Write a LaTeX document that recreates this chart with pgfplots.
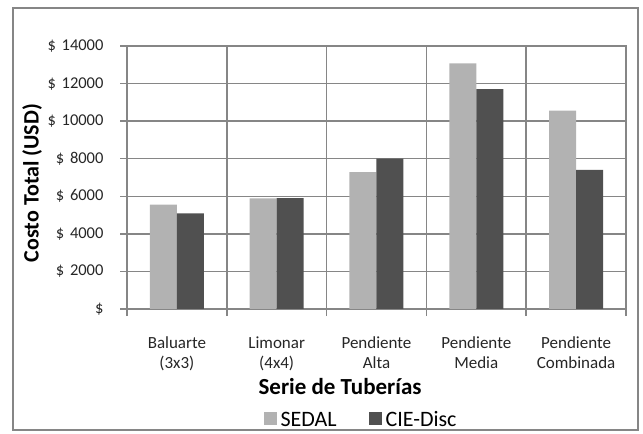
\documentclass[border=0pt]{standalone}
\usepackage{pgfplots}
\pgfplotsset{compat=1.18}
\usepackage{fontspec}
\setmainfont{Carlito}
\definecolor{sedal}{HTML}{B2B2B2}
\definecolor{cie}{HTML}{505050}
\definecolor{gridc}{HTML}{868686}
\begin{document}
\begin{tikzpicture}[x=1pt,y=1pt]
\useasboundingbox (0,0) rectangle (643,434);
\draw[gridc, line width=2pt] (13,4) rectangle (638,426);
\begin{axis}[
  at={(127pt,125pt)}, anchor=south west,
  scale only axis, width=499pt, height=263pt,
  ybar=0pt, bar width=27pt,
  xmin=-0.5, xmax=4.5, ymin=0, ymax=14000,
  scaled y ticks=false,
  xtick={0,1,2,3,4},
  xticklabels={{Baluarte\\(3x3)},{Limonar\\(4x4)},{Pendiente\\Alta},{Pendiente\\Media},{Pendiente\\Combinada}},
  minor xtick={-0.5,0.5,1.5,2.5,3.5,4.5},
  ytick={0,2000,4000,6000,8000,10000,12000,14000},
  yticklabels={\$,\$\hspace{2pt} 2000,\$\hspace{2pt} 4000,\$\hspace{2pt} 6000,\$\hspace{2pt} 8000,\$\hspace{2pt} 10000,\$\hspace{2pt} 12000,\$\hspace{2pt} 14000},
  minor ytick={0,2000,4000,6000,8000,10000,12000,14000},
  major tick length=0pt, minor tick length=7pt,
  tick align=outside, xtick pos=lower, ytick pos=left,
  ymajorgrids, xminorgrids,
  major grid style={gridc, line width=1.5pt},
  minor grid style={gridc, line width=1.5pt},
  minor tick style={gridc, line width=1.5pt},
  axis line style={gridc, line width=1.5pt},
  yticklabel style={font=\fontsize{16.5}{18}\selectfont, xshift=-20pt, text=black!85},
  xticklabel style={font=\fontsize{17}{20}\selectfont, align=center, yshift=-24pt, text=black!85},
  xlabel={Serie de Tuberías},
  ylabel={Costo Total (USD)},
  xlabel style={font=\fontsize{23}{25}\selectfont\bfseries, at={(axis description cs:0.427,-0.293)}, anchor=center},
  ylabel style={font=\fontsize{22}{24}\selectfont\bfseries, at={(axis description cs:-0.19,0.479)}, anchor=center, rotate=0},
  legend style={draw=none, fill=none, at={(axis description cs:0.469,-0.422)}, anchor=center,
    legend columns=2, font=\fontsize{22}{24}\selectfont,
    /tikz/every odd column/.append style={column sep=2pt},
    /tikz/every even column/.append style={column sep=30pt}},
  legend image code/.code={\fill[#1] (0pt,-5pt) rectangle (13pt,8pt);},
]
\addplot[fill=sedal, draw=none] coordinates {(0,5560) (1,5890) (2,7280) (3,13080) (4,10560)};
\addplot[fill=cie, draw=none] coordinates {(0,5090) (1,5900) (2,8000) (3,11700) (4,7400)};
\legend{SEDAL,CIE-Disc}
\end{axis}
\end{tikzpicture}
\end{document}
